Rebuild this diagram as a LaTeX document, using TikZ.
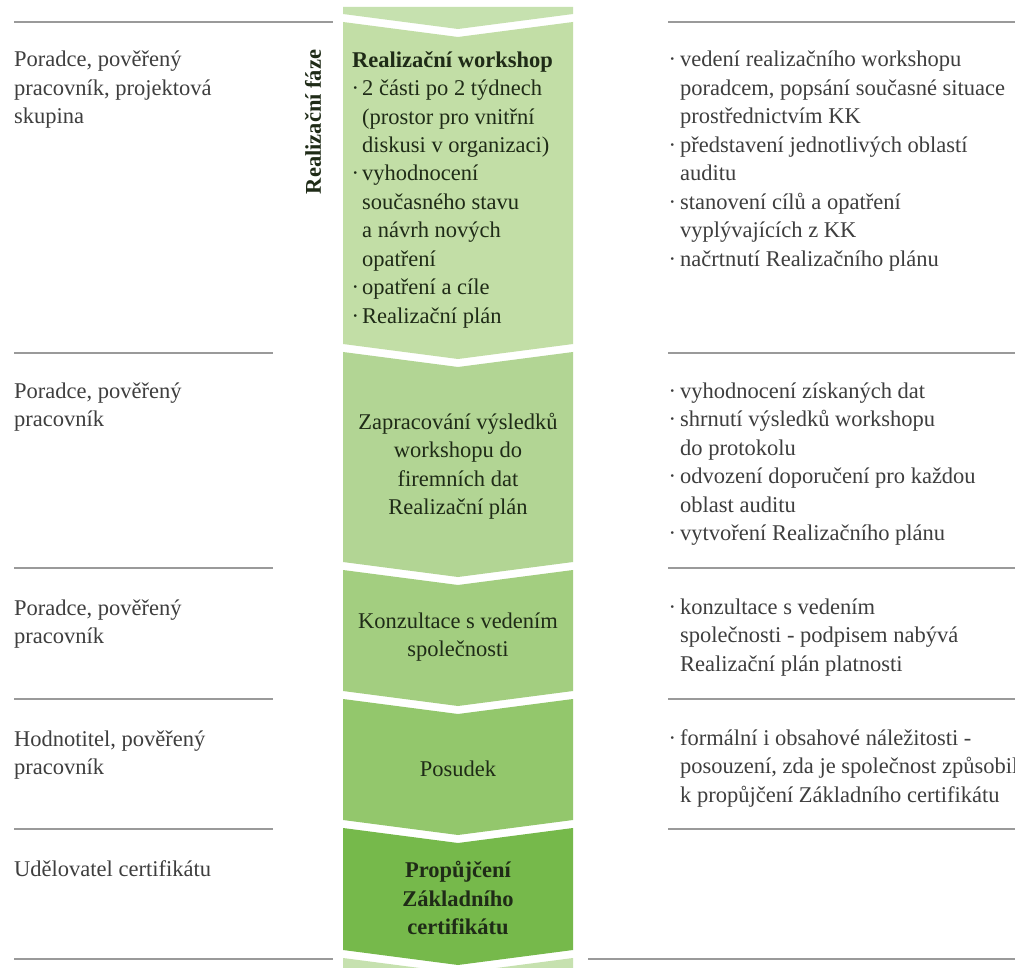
\documentclass[tikz,border=0pt]{standalone}
\usepackage{fontspec}
\setmainfont{Liberation Serif}
\definecolor{sidetext}{HTML}{3E3E3E}
\definecolor{boxtext}{HTML}{1F2B17}
\definecolor{rulegray}{HTML}{9A9A9A}
\definecolor{gTop}{HTML}{C6E1AF}
\definecolor{gOne}{HTML}{C2DEA6}
\definecolor{gTwo}{HTML}{B2D594}
\definecolor{gThree}{HTML}{A3CE80}
\definecolor{gFour}{HTML}{93C76C}
\definecolor{gFive}{HTML}{76B94B}
\newcommand{\bul}{\llap{·\hspace{4pt}}}
\newcommand{\bbul}{\llap{·\hspace{3pt}}}
\begin{document}
\begin{tikzpicture}[x=1pt,y=-1pt,
  sidetxt/.style={anchor=base west, align=left, inner sep=0pt, text=sidetext, font=\fontsize{22.5}{28.5}\selectfont},
  boxtxt/.style={anchor=center, align=center, inner sep=0pt, text=boxtext, font=\fontsize{22.5}{28.5}\selectfont},
  boxleft/.style={anchor=base west, align=left, inner sep=0pt, text=boxtext, font=\fontsize{22.5}{28.5}\selectfont},
  seprule/.style={draw=rulegray, line width=2pt}]
\useasboundingbox (0,0) rectangle (1015,968);
\clip (0,0) rectangle (1015,968);
\fill[white] (0,0) rectangle (1015,968);

% chevron bands
\fill[gTop] (343,7) -- (573,7) -- (573,14) -- (458,29) -- (343,14) -- cycle;
\fill[gOne] (343,22) -- (458,37) -- (573,22) -- (573,344) -- (458,359) -- (343,344) -- cycle;
\fill[gTwo] (343,352) -- (458,367) -- (573,352) -- (573,562) -- (458,577) -- (343,562) -- cycle;
\fill[gThree] (343,570) -- (458,585) -- (573,570) -- (573,691) -- (458,706) -- (343,691) -- cycle;
\fill[gFour] (343,699) -- (458,714) -- (573,699) -- (573,820) -- (458,835) -- (343,820) -- cycle;
\fill[gFive] (343,828) -- (458,843) -- (573,828) -- (573,950) -- (458,965) -- (343,950) -- cycle;
\fill[gTop] (343,958) -- (458,973) -- (573,958) -- (573,980) -- (343,980) -- cycle;

% separator rules
\draw[seprule] (14,22) -- (333,22);
\draw[seprule] (668,22) -- (1015,22);
\foreach \yy in {353,568,699,829} {
  \draw[seprule] (14,\yy) -- (273,\yy);
  \draw[seprule] (668,\yy) -- (1015,\yy);
}
\draw[seprule] (14,959) -- (333,959);
\draw[seprule] (588,959) -- (1015,959);

% left column (anchor = baseline of the last line)
\node[sidetxt] (l1) at (14,124) {Poradce, pověřený\\pracovník, projektová\\skupina};
\node[sidetxt] (l2) at (14,426.5) {Poradce, pověřený\\pracovník};
\node[sidetxt] (l3) at (14,643.5) {Poradce, pověřený\\pracovník};
\node[sidetxt] (l4) at (14,774.5) {Hodnotitel, pověřený\\pracovník};
\node[sidetxt] (l5) at (14,876) {Udělovatel certifikátu};

% vertical phase label
\node[rotate=90, inner sep=0pt, text=boxtext, font=\fontsize{22.5}{28.5}\selectfont\bfseries] (phase) at (313,122) {Realizační fáze};

% center boxes
\node[boxleft] (b1) at (362,323.5) {\hspace*{-10pt}\textbf{Realizační workshop}\\
\bbul 2 části po 2 týdnech\\
(prostor pro vnitřní\\
diskusi v organizaci)\\
\bbul vyhodnocení\\
současného stavu\\
a návrh nových\\
opatření\\
\bbul opatření a cíle\\
\bbul Realizační plán};
\node[boxtxt] (b2) at (458,466) {Zapracování výsledků\\workshopu do\\firemních dat\\Realizační plán};
\node[boxtxt] (b3) at (458,637) {Konzultace s vedením\\společnosti};
\node[boxtxt] (b4) at (458,769) {Posudek};
\node[boxtxt, font=\fontsize{22.5}{28.5}\selectfont\bfseries] (b5) at (458,898) {Propůjčení\\Základního\\certifikátu};

% right column
\node[sidetxt] (r1) at (680,266.5) {\bul vedení realizačního workshopu\\
poradcem, popsání současné situace\\
prostřednictvím KK\\
\bul představení jednotlivých oblastí\\
auditu\\
\bul stanovení cílů a opatření\\
vyplývajících z KK\\
\bul načrtnutí Realizačního plánu};
\node[sidetxt] (r2) at (680,540.5) {\bul vyhodnocení získaných dat\\
\bul shrnutí výsledků workshopu\\
do protokolu\\
\bul odvození doporučení pro každou\\
oblast auditu\\
\bul vytvoření Realizačního plánu};
\node[sidetxt] (r3) at (680,671) {\bul konzultace s vedením\\
společnosti - podpisem nabývá\\
Realizační plán platnosti};
\node[sidetxt] (r4) at (680,802) {\bul formální i obsahové náležitosti -\\
posouzení, zda je společnost způsobilá\\
k propůjčení Základního certifikátu};
\end{tikzpicture}
\end{document}
